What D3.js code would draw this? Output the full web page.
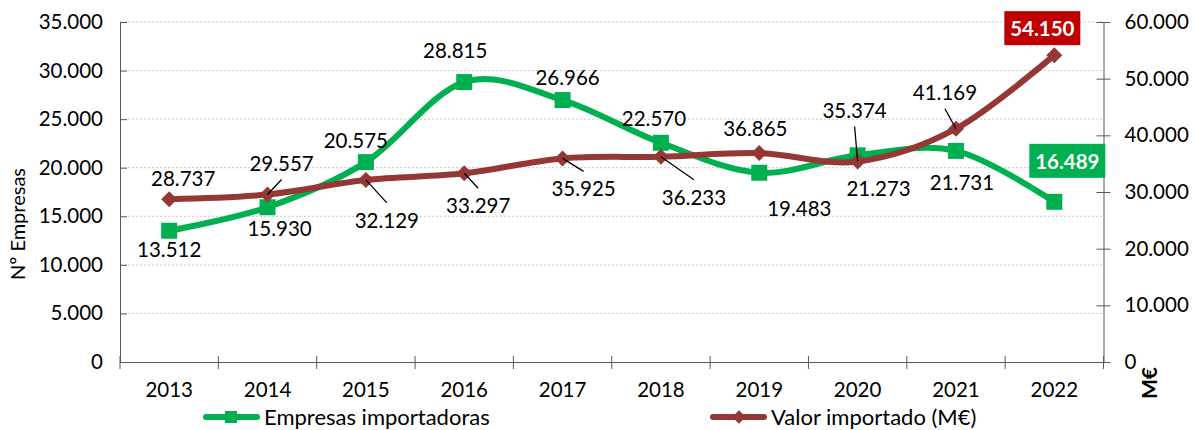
<!DOCTYPE html>
<html>
<head>
<meta charset="utf-8">
<script src="https://cdn.jsdelivr.net/npm/d3@7"></script>
<style>
  body { margin: 0; background: #fff; }
  text { font-family: Lato, "Open Sans", sans-serif; fill: #000; }
</style>
</head>
<body>
<script>
const years = ["2013","2014","2015","2016","2017","2018","2019","2020","2021","2022"];
const empresas = [13512, 15930, 20575, 28815, 26966, 22570, 19483, 21273, 21731, 16489];
const valor = [28737, 29557, 32129, 33297, 35925, 36233, 36865, 35374, 41169, 54150];
const leftTicks = [0, 5000, 10000, 15000, 20000, 25000, 30000, 35000];
const rightTicks = [0, 10000, 20000, 30000, 40000, 50000, 60000];

// label placement (offsets from point, in px)
const empOffsets = [[0,18],[12,21],[-10,-22],[-9,-32],[5,-23],[-7,-25],[40,35],[21,33],[6,31],[13,-41]];
const valOffsets = [[14,-21],[14,-32],[21,40],[14,32],[21,30],[33,40],[-4,-25],[-3,-52],[-11,-37],[-12,-27]];
const valLeaders = [false,true,true,true,true,true,false,true,true,false];

const W = 1194, H = 430;
const FS = 20.5;
const fmt = v => d3.format(",")(v).replace(/,/g, ".");
const green = "#00B050", red = "#953735";

const svg = d3.select("body").append("svg").attr("width", W).attr("height", H);

const x = d3.scaleBand().domain(years).range([120, 1103.5]);
const yL = d3.scaleLinear().domain([0, 35000]).range([362, 22]);
const yR = d3.scaleLinear().domain([0, 60000]).range([362, 22]);
const cx = i => x(years[i]) + x.bandwidth() / 2;

// gridlines
svg.append("g").selectAll("line").data(leftTicks.filter(d => d > 0)).join("line")
  .attr("x1", 120).attr("x2", 1103.5)
  .attr("y1", d => yL(d)).attr("y2", d => yL(d))
  .attr("stroke", "#c8c8c8").attr("stroke-dasharray", "2,2").attr("stroke-width", 1);

const axisColor = "#595959";

// left axis
const gl = svg.append("g").attr("transform", "translate(120,0)")
  .call(d3.axisLeft(yL).tickValues(leftTicks).tickFormat(fmt).tickSizeInner(7).tickSizeOuter(0).tickPadding(10));
gl.selectAll(".tick line").attr("x2", 7);
// right axis
const gr = svg.append("g").attr("transform", "translate(1103.5,0)")
  .call(d3.axisRight(yR).tickValues(rightTicks).tickFormat(fmt).tickSizeInner(7).tickSizeOuter(0).tickPadding(14));
gr.selectAll(".tick line").attr("x1", -7);
// x axis
const gx = svg.append("g").attr("transform", "translate(0,362)")
  .call(d3.axisBottom(x).tickSize(0).tickPadding(20));
gx.selectAll(".tick line").remove();
gx.append("g").selectAll("line").data(years.map((d, i) => i).concat([years.length])).join("line")
  .attr("x1", i => 120 + i * x.bandwidth()).attr("x2", i => 120 + i * x.bandwidth())
  .attr("y1", -6).attr("y2", 7).attr("stroke", axisColor);

[gl, gr, gx].forEach(g => {
  g.select(".domain").attr("stroke", axisColor);
  g.selectAll(".tick line").attr("stroke", axisColor);
  g.selectAll("text").attr("font-size", FS).attr("font-family", "Lato").attr("fill", "#000");
});

// axis titles
svg.append("text").attr("transform", "translate(25,224) rotate(-90)")
  .attr("text-anchor", "middle").attr("font-size", 20).text("Nº Empresas");
svg.append("text").attr("transform", "translate(1157,383) rotate(-90)")
  .attr("text-anchor", "middle").attr("font-size", 21).attr("font-weight", "bold").text("M€");

// lines
const curve = d3.curveCatmullRom.alpha(0);
const lineL = d3.line().x((d, i) => cx(i)).y(d => yL(d)).curve(curve);
const lineR = d3.line().x((d, i) => cx(i)).y(d => yR(d)).curve(curve);

svg.append("path").attr("d", lineL(empresas)).attr("fill", "none")
  .attr("stroke", green).attr("stroke-width", 6).attr("stroke-linecap", "round").attr("stroke-linejoin", "round");
svg.append("g").selectAll("rect").data(empresas).join("rect")
  .attr("x", (d, i) => cx(i) - 8).attr("y", d => yL(d) - 8)
  .attr("width", 16).attr("height", 16).attr("fill", green);

svg.append("path").attr("d", lineR(valor)).attr("fill", "none")
  .attr("stroke", red).attr("stroke-width", 6).attr("stroke-linecap", "round").attr("stroke-linejoin", "round");
svg.append("g").selectAll("path").data(valor).join("path")
  .attr("d", d3.symbol(d3.symbolSquare, 128))
  .attr("transform", (d, i) => `translate(${cx(i)},${yR(d)}) rotate(45)`)
  .attr("fill", red);

// leader lines
svg.append("g").selectAll("line").data(valor.map((d, i) => i).filter(i => valLeaders[i])).join("line")
  .attr("x1", i => cx(i)).attr("y1", i => yR(valor[i]))
  .attr("x2", i => cx(i) + valOffsets[i][0])
  .attr("y2", i => yR(valor[i]) + valOffsets[i][1] + (valOffsets[i][1] < 0 ? 17 : -17))
  .attr("stroke", "#000").attr("stroke-width", 1.3);

// data labels
function labels(vals, scale, offs, boxColor) {
  const g = svg.append("g");
  vals.forEach((v, i) => {
    const lx = cx(i) + offs[i][0], ly = scale(v) + offs[i][1];
    const last = i === vals.length - 1;
    if (last) {
      g.append("rect").attr("x", lx - 38).attr("y", ly - 17).attr("width", 76).attr("height", 34)
        .attr("fill", boxColor);
    }
    g.append("text").attr("x", lx).attr("y", ly).attr("text-anchor", "middle")
      .attr("dominant-baseline", "central").attr("font-size", FS)
      .attr("font-weight", last ? "bold" : "normal")
      .style("fill", last ? "#fff" : "#000").text(fmt(v));
  });
}
labels(empresas, yL, empOffsets, green);
labels(valor, yR, valOffsets, "#C00000");

// legend
const leg = [
  { name: "Empresas importadoras", color: green, x: 203, marker: "square" },
  { name: "Valor importado (M€)", color: red, x: 710, marker: "diamond" }
];
const legY = 416;
leg.forEach(l => {
  const g = svg.append("g");
  g.append("line").attr("x1", l.x + 3).attr("x2", l.x + 54).attr("y1", legY + 1).attr("y2", legY + 1)
    .attr("stroke", l.color).attr("stroke-width", 6).attr("stroke-linecap", "round");
  if (l.marker === "square") {
    g.append("rect").attr("x", l.x + 22).attr("y", legY - 5).attr("width", 12).attr("height", 12).attr("fill", l.color);
  } else {
    g.append("path").attr("d", d3.symbol(d3.symbolSquare, 90))
      .attr("transform", `translate(${l.x + 29},${legY + 1}) rotate(45)`).attr("fill", l.color);
  }
  g.append("text").attr("x", l.x + 61).attr("y", legY).attr("dominant-baseline", "central")
    .attr("font-size", 22).text(l.name);
});
</script>
</body>
</html>
